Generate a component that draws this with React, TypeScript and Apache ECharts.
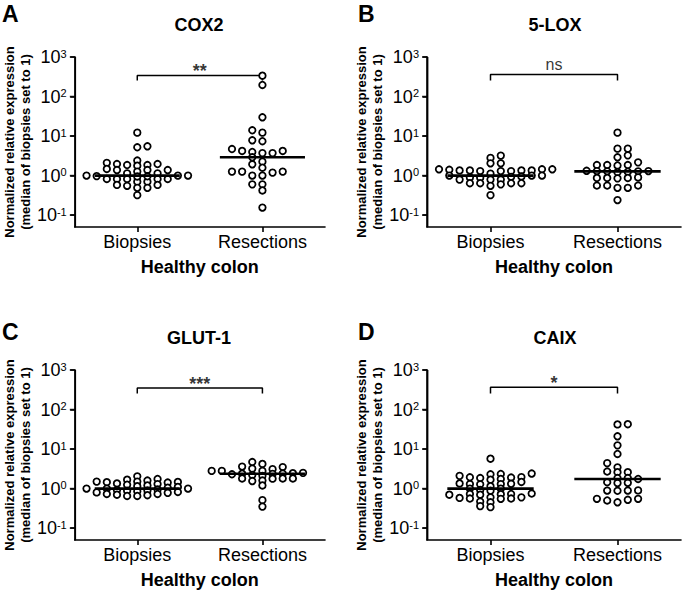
import React, { useEffect, useRef } from 'react';
import * as echarts from 'echarts';

// ---------------- data ----------------
const panelLetters = ['A', 'B', 'C', 'D'];
const panelTitles = ['COX2', '5-LOX', 'GLUT-1', 'CAIX'];
const groupLabels = ['Biopsies', 'Resections'];
const xAxisTitle = 'Healthy colon';
const yAxisTitle = 'Normalized relative expression\n(median of biopsies set to 1)';
const yTickValues = [0.1, 1, 10, 100, 1000];
const significance = ['**', 'ns', '***', '*'];
const bracketTop = [340, 360, 350, 365];
const bracketFoot = [255, 255, 255, 255];

const cox2Biopsies = [12.2, 5.2, 5.5, 2.4, 1.85, 2.1, 1.96, 1.85, 1.96, 1.78, 1.38, 1.38, 1.47, 1.26, 1.38, 1.0, 1.0, 1.14, 1.14, 1.0, 0.97, 0.82, 0.7, 0.82, 0.82, 0.7, 0.82, 0.82, 0.58, 0.49, 0.58, 0.49, 0.55, 0.32, 0.96, 0.95];
const cox2Resections = [337, 196, 29.8, 14, 12.2, 7.8, 7.4, 4.2, 3.95, 3.7, 3.7, 4.2, 4.7, 2.9, 2.25, 1.93, 1.58, 1.26, 1.19, 1.0, 1.0, 1.26, 1.26, 0.6, 0.6, 0.42, 0.155];
const lox5Biopsies = [3.2, 2.8, 2.04, 2.04, 1.44, 1.44, 1.4, 1.44, 1.35, 1.3, 1.35, 1.35, 1.3, 1.3, 1.35, 1.12, 1.0, 1.0, 1.0, 0.95, 0.93, 0.9, 0.88, 0.79, 0.79, 0.64, 0.64, 0.64, 0.6, 0.55, 0.64, 0.79, 0.32];
const lox5Resections = [12.2, 4.8, 4.8, 3.25, 2.9, 2.16, 1.85, 1.85, 1.8, 1.85, 1.3, 1.28, 1.32, 1.25, 1.22, 1.3, 1.28, 0.87, 0.85, 0.87, 0.87, 0.9, 0.56, 0.49, 0.49, 0.56, 0.56, 0.24];
const glut1Biopsies = [2.04, 1.75, 1.6, 1.68, 1.5, 1.45, 1.47, 1.5, 1.42, 1.35, 1.3, 1.2, 1.15, 1.1, 1.25, 1.05, 1.0, 1.0, 1.0, 0.95, 0.92, 0.9, 0.88, 0.85, 0.82, 0.8, 0.78, 0.73, 0.73, 0.7, 0.65, 0.65, 0.68];
const glut1Resections = [4.7, 4.2, 3.5, 3.1, 2.8, 2.8, 2.8, 3.2, 3.6, 2.5, 2.45, 2.4, 2.38, 2.35, 2.3, 2.2, 2.1, 1.8, 1.8, 1.55, 1.6, 1.78, 1.8, 1.2, 0.51, 0.35];
const caixBiopsies = [5.7, 2.34, 2.3, 2.4, 2.1, 1.93, 1.9, 1.95, 1.85, 1.68, 1.75, 1.47, 1.3, 1.35, 1.3, 1.32, 1.28, 1.15, 1.0, 1.0, 0.92, 0.88, 0.73, 0.7, 0.72, 0.7, 0.73, 0.75, 0.56, 0.58, 0.6, 0.55, 0.56, 0.45, 0.47, 0.34, 0.36, 0.6];
const caixResections = [42, 42.5, 21, 12.4, 7.5, 4.4, 3.45, 2.6, 2.6, 2.7, 1.85, 1.75, 1.85, 1.38, 1.4, 1.45, 0.89, 0.88, 0.9, 0.89, 0.55, 0.52, 0.45, 0.5, 0.55];

const panelData = [
  [cox2Biopsies, cox2Resections],
  [lox5Biopsies, lox5Resections],
  [glut1Biopsies, glut1Resections],
  [caixBiopsies, caixResections],
];

// ---------------- layout ----------------
const FONT = '"Liberation Sans", Arial, Helvetica, sans-serif';
const GRID_W = 254;
const GRID_H = 170;
const gridPos = [[71, 57], [427, 57], [71, 370], [427, 370]];
const letterTop = [2, 2, 320, 320];
const titleTop = [16, 16, 329, 329];
const Y_MIN = 0.05;
const Y_MAX = 1000;
const X_MIN = -0.5;
const X_MAX = 1.5;
const MEDIAN_HALF = 0.34;
const SWARM_W = 10.3; // horizontal spacing of neighbouring dots (px)
const SWARM_H = 4.5; // vertical band within which dots must not share a column (px)
const AXIS_W = 1.6;
const TICK_LEN = 4.5;

// the y axis is a decade (log10) scale: values are handed to it as log10(value)
const lg = (v: number) => Math.log10(v);

function swarmOffsets(values: number[]): number[] {
  const pxDec = GRID_H / (lg(Y_MAX) - lg(Y_MIN));
  const pxUnit = GRID_W / (X_MAX - X_MIN);
  const ys = values.map((v) => lg(v) * pxDec);
  const order = values.map((_, i) => i).sort((a, b) => ys[a] - ys[b]);
  const placed: { x: number; y: number }[] = [];
  const xs = new Array(values.length).fill(0);
  let side = 1;
  for (const i of order) {
    const y = ys[i];
    const near = placed.filter((p) => Math.abs(p.y - y) < SWARM_H);
    const cands = [0];
    for (const p of near) cands.push(p.x + SWARM_W, p.x - SWARM_W);
    cands.sort((a, b) => Math.abs(a) - Math.abs(b) || (b - a) * side);
    let best = 0;
    for (const c of cands) {
      if (near.every((p) => Math.abs(p.x - c) >= SWARM_W - 0.01)) {
        best = c;
        break;
      }
    }
    side = -side;
    placed.push({ x: best, y });
    xs[i] = best / pxUnit;
  }
  return xs;
}

function median(a: number[]): number {
  const s = [...a].sort((x, y) => x - y);
  const n = s.length;
  return n % 2 ? s[(n - 1) / 2] : (s[n / 2 - 1] + s[n / 2]) / 2;
}

function buildOption() {
  const grid: any[] = [];
  const xAxis: any[] = [];
  const yAxis: any[] = [];
  const series: any[] = [];
  const graphic: any[] = [];
  const yTicks = yTickValues.map(lg);
  const pxUnit = GRID_W / (X_MAX - X_MIN);
  const inset = 0.6 / pxUnit; // keep the drawn y axis just inside the grid

  panelData.forEach((groups, p) => {
    const [left, top] = gridPos[p];
    grid.push({ left, top, width: GRID_W, height: GRID_H, containLabel: false });
    xAxis.push({
      type: 'value',
      gridIndex: p,
      position: 'bottom',
      min: X_MIN,
      max: X_MAX,
      splitLine: { show: false },
      axisLine: { show: true, onZero: false, lineStyle: { color: '#000', width: AXIS_W } },
      axisTick: { show: true, length: 5, customValues: [0, 1], lineStyle: { color: '#000', width: AXIS_W } },
      axisLabel: {
        customValues: [0, 1],
        formatter: (v: number) => groupLabels[Math.round(v)],
        color: '#000',
        fontSize: 18,
        fontFamily: FONT,
        margin: 6,
      },
      name: xAxisTitle,
      nameLocation: 'middle',
      nameGap: 31,
      nameTextStyle: { fontWeight: 'bold', fontSize: 18, fontFamily: FONT, color: '#000' },
    });
    yAxis.push({
      type: 'value',
      gridIndex: p,
      position: 'left',
      min: lg(Y_MIN),
      max: lg(Y_MAX),
      splitLine: { show: false },
      axisLine: { show: true, onZero: false, lineStyle: { color: '#000', width: AXIS_W } },
      axisTick: { show: true, length: TICK_LEN, customValues: yTicks, lineStyle: { color: '#000', width: AXIS_W } },
      axisLabel: {
        customValues: yTicks,
        margin: 8,
        formatter: (v: number) => `{b|10}{s|${Math.round(v)}}`,
        rich: {
          b: { fontSize: 18, fontFamily: FONT, color: '#000' },
          s: { fontSize: 11, fontFamily: FONT, color: '#000', verticalAlign: 'top' },
        },
      },
      name: yAxisTitle,
      nameLocation: 'middle',
      nameGap: 38,
      nameTextStyle: { fontWeight: 'bold', fontSize: 13, lineHeight: 16, fontFamily: FONT, color: '#000' },
    });

    // y axis line + decade ticks drawn as series too, through the axes' own scales
    series.push({
      type: 'line',
      xAxisIndex: p,
      yAxisIndex: p,
      silent: true,
      clip: false,
      symbol: 'none',
      lineStyle: { color: '#000', width: AXIS_W },
      z: 6,
      data: [[X_MIN + inset, lg(Y_MIN)], [X_MIN + inset, lg(Y_MAX)]],
    });
    series.push({
      type: 'scatter',
      xAxisIndex: p,
      yAxisIndex: p,
      silent: true,
      clip: false,
      symbol: 'rect',
      symbolSize: [TICK_LEN + 1, AXIS_W],
      symbolOffset: [-(TICK_LEN + 1) / 2, 0],
      itemStyle: { color: '#000' },
      z: 6,
      data: yTicks.map((t) => [X_MIN + inset, t]),
    });

    groups.forEach((vals, g) => {
      const offs = swarmOffsets(vals);
      series.push({
        type: 'scatter',
        xAxisIndex: p,
        yAxisIndex: p,
        silent: true,
        symbol: 'circle',
        symbolSize: 6.5,
        itemStyle: { color: '#fff', borderColor: '#000', borderWidth: 1.8, opacity: 1 },
        z: 3,
        data: vals.map((v, k) => [g + offs[k], lg(v)]),
      });
      const m = lg(median(vals));
      series.push({
        type: 'line',
        xAxisIndex: p,
        yAxisIndex: p,
        silent: true,
        symbol: 'none',
        lineStyle: { color: '#000', width: 2.6 },
        z: 4,
        data: [[g - MEDIAN_HALF, m], [g + MEDIAN_HALF, m]],
      });
    });

    const bt = lg(bracketTop[p]);
    const bf = lg(bracketFoot[p]);
    series.push({
      type: 'line',
      xAxisIndex: p,
      yAxisIndex: p,
      silent: true,
      symbol: 'none',
      lineStyle: { color: '#000', width: 1.5 },
      z: 2,
      data: [[0, bf], [0, bt], [1, bt], [1, bf]],
    });
    const isNs = significance[p] === 'ns';
    series.push({
      type: 'scatter',
      xAxisIndex: p,
      yAxisIndex: p,
      silent: true,
      symbolSize: 1,
      itemStyle: { color: 'rgba(0,0,0,0)' },
      z: 5,
      label: {
        show: true,
        position: 'top',
        distance: 0,
        formatter: significance[p],
        color: '#000',
        fontFamily: FONT,
        fontWeight: isNs ? 'normal' : 'bold',
        fontSize: isNs ? 16 : 18,
        offset: isNs ? [0, -2] : [0, 5],
      },
      data: [[0.5, bt]],
    });

    graphic.push({
      type: 'text',
      x: left - 69,
      y: letterTop[p],
      silent: true,
      style: { text: panelLetters[p], font: `bold 23px ${FONT}`, fill: '#000', textAlign: 'left', textVerticalAlign: 'top' },
    });
    graphic.push({
      type: 'text',
      x: left + GRID_W / 2 + 1,
      y: titleTop[p],
      silent: true,
      style: { text: panelTitles[p], font: `bold 18px ${FONT}`, fill: '#000', textAlign: 'center', textVerticalAlign: 'top' },
    });
  });

  return {
    animation: false,
    backgroundColor: '#fff',
    textStyle: { fontFamily: FONT },
    grid,
    xAxis,
    yAxis,
    series,
    graphic,
  };
}

export default function App() {
  const ref = useRef<HTMLDivElement>(null);
  useEffect(() => {
    if (!ref.current) return;
    const chart = echarts.init(ref.current, null, { renderer: 'svg' });
    chart.setOption(buildOption() as any);
    return () => chart.dispose();
  }, []);
  return (
    <div
      ref={ref}
      style={{ position: 'absolute', left: 0, top: 0, width: 685, height: 593, background: '#fff' }}
    />
  );
}
